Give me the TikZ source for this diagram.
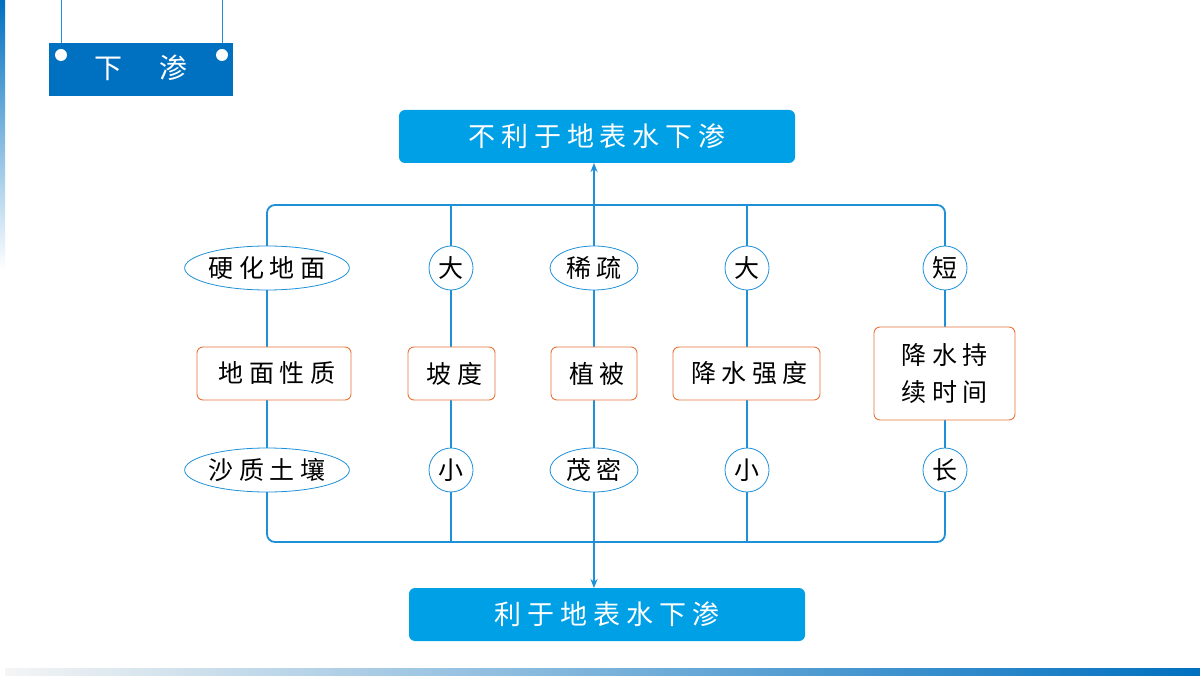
\documentclass[tikz,border=0pt]{standalone}
\usepackage{fontspec}
\setmainfont{Noto Sans CJK SC}
\newfontfamily\spc[LetterSpace=22]{Noto Sans CJK SC}
\newcommand{\bk}{\hspace{-0.22em}}
\usetikzlibrary{shapes.geometric,arrows.meta}
\definecolor{cy}{HTML}{00A0E6}
\definecolor{dk}{HTML}{0070C0}
\definecolor{ln}{HTML}{1E90D8}
\definecolor{og}{HTML}{E8743B}
\begin{document}
\begin{tikzpicture}[x=1pt,y=-1pt,
 bigbox/.style={fill=cy,rounded corners=6pt,minimum width=396pt,minimum height=53pt,text=white,font=\spc\fontsize{27}{27}\selectfont},
 ell/.style={ellipse,draw=ln,line width=0.8pt,fill=white,minimum height=44pt,inner sep=0pt,font=\spc\fontsize{25}{25}\selectfont},
 circ/.style={circle,draw=ln,line width=0.8pt,fill=white,minimum size=44pt,inner sep=0pt,font=\fontsize{25}{25}\selectfont},
 obox/.style={draw=og,line width=0.9pt,fill=white,rounded corners=6pt,minimum height=53pt,inner sep=2pt,font=\spc\fontsize{25}{25}\selectfont,align=center},
 conn/.style={draw=ln,line width=1.8pt},
 arr/.style={conn,-{Stealth[length=9pt,width=7pt]}}]
\useasboundingbox (0,0) rectangle (1200,676);
\fill[white] (0,0) rectangle (1200,676);
\shade[top color=dk,bottom color=white] (0,0) rectangle (5,270);
\shade[left color=gray!8,right color=dk] (5,668) rectangle (1200,676);
% title
\draw[ln,line width=0.8pt] (61,0) -- (61,43) (222,0) -- (222,43);
\node[fill=dk,minimum width=184pt,minimum height=53pt,inner sep=0pt] (title) at (141,69.5) {};
\fill[white] (61,55) circle (6) (222,55) circle (6);
\node[text=white,font=\fontsize{28}{28}\selectfont] at (141,68) {下\hspace{1.3em}渗};
% frame
\draw[conn,rounded corners=8pt] (267,205) rectangle (945,542);
\node[bigbox] (top) at (597,136.5) {不利于地表水下渗\bk};
\node[bigbox] (bot) at (607,614.5) {利于地表水下渗\bk};
\coordinate (ft) at (594,205);
\coordinate (fb) at (594,542);
\draw[arr] (ft) -- (594,163);
\draw[arr] (fb) -- (594,588);
\foreach \x in {451,594,747} \draw[conn] (\x,205) -- (\x,542);
% nodes
\node[ell,minimum width=162pt] (a1) at (267,268) {硬化地面\bk};
\node[circ] (b1) at (451,268) {大};
\node[ell,minimum width=88pt] (c1) at (594,268) {稀疏\bk};
\node[circ] (d1) at (747,268) {大};
\node[circ] (e1) at (945,268) {短};
\node[obox,minimum width=154pt] (a2) at (274,373.5) {地面性质\bk};
\node[obox,minimum width=87pt] (b2) at (451.5,373.5) {坡度\bk};
\node[obox,minimum width=86pt] (c2) at (594,373.5) {植被\bk};
\node[obox,minimum width=147pt] (d2) at (746.5,373.5) {降水强度\bk};
\node[obox,minimum width=141pt,minimum height=93pt,font=\spc\fontsize{25}{37}\selectfont] (e2) at (944.5,373.5) {降水持\bk\\续时间\bk};
\node[ell,minimum width=162pt] (a3) at (267,470) {沙质土壤\bk};
\node[circ] (b3) at (451,470) {小};
\node[ell,minimum width=88pt] (c3) at (594,470) {茂密\bk};
\node[circ] (d3) at (747,470) {小};
\node[circ] (e3) at (945,470) {长};
\end{tikzpicture}
\end{document}
